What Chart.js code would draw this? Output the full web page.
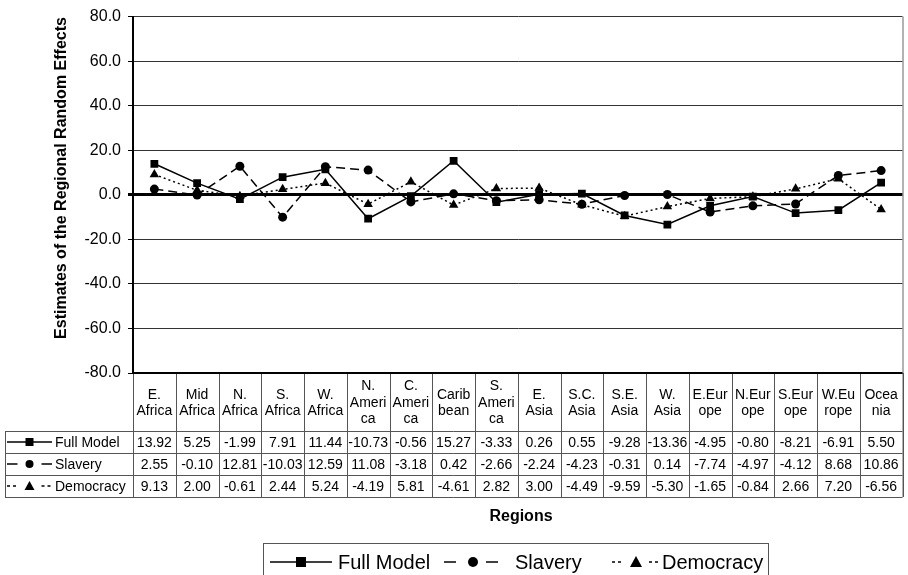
<!DOCTYPE html>
<html>
<head>
<meta charset="utf-8">
<script src="https://cdn.jsdelivr.net/npm/chart.js@4"></script>
<style>
  body { margin: 0; background: #fff; }
  #wrap { width: 908px; height: 575px; }
</style>
</head>
<body>
<div id="wrap"><canvas id="myChart" width="908" height="575"></canvas></div>
<script>
// regions (table header, split the way the original table wraps them)
const regions = [
    ["E.", "Africa"], ["Mid", "Africa"], ["N.", "Africa"], ["S.", "Africa"], ["W.", "Africa"],
    ["N.", "Ameri", "ca"], ["C.", "Ameri", "ca"], ["Carib", "bean"], ["S.", "Ameri", "ca"],
    ["E.", "Asia"], ["S.C.", "Asia"], ["S.E.", "Asia"], ["W.", "Asia"],
    ["E.Eur", "ope"], ["N.Eur", "ope"], ["S.Eur", "ope"], ["W.Eu", "rope"], ["Ocea", "nia"]
];
const fullModel = [13.92, 5.25, -1.99, 7.91, 11.44, -10.73, -0.56, 15.27, -3.33, 0.26, 0.55, -9.28, -13.36, -4.95, -0.80, -8.21, -6.91, 5.50];
const slavery = [2.55, -0.10, 12.81, -10.03, 12.59, 11.08, -3.18, 0.42, -2.66, -2.24, -4.23, -0.31, 0.14, -7.74, -4.97, -4.12, 8.68, 10.86];
const democracy = [9.13, 2.00, -0.61, 2.44, 5.24, -4.19, 5.81, -4.61, 2.82, 3.00, -4.49, -9.59, -5.30, -1.65, -0.84, 2.66, 7.20, -6.56];
const seriesNames = ["Full Model", "Slavery", "Democracy"];
const yTicks = [-80, -60, -40, -20, 0, 20, 40, 60, 80];

const FONT = "'Liberation Sans', Arial, sans-serif";
const seriesStyle = [
    { dash: [], point: "rect", r: 5.5 },
    { dash: [9, 5], point: "circle", r: 4.5 },
    { dash: [2, 3], point: "triangle", r: 5.5 }
];
const allData = [fullModel, slavery, democracy];

// small marker drawer used for the table keys and the legend
function marker(ctx, type, x, y, s) {
    ctx.save();
    ctx.fillStyle = "#000";
    ctx.setLineDash([]);
    ctx.beginPath();
    if (type === "rect") {
        ctx.rect(x - s / 2, y - s / 2, s, s);
    } else if (type === "circle") {
        ctx.arc(x, y, s / 2, 0, Math.PI * 2);
    } else {
        ctx.moveTo(x, y - s / 2 - 1);
        ctx.lineTo(x + s / 2 + 1, y + s / 2);
        ctx.lineTo(x - s / 2 - 1, y + s / 2);
        ctx.closePath();
    }
    ctx.fill();
    ctx.restore();
}

function keySample(ctx, i, x1, x2, y, s) {
    const mid = (x1 + x2) / 2;
    ctx.save();
    ctx.strokeStyle = "#000";
    ctx.lineWidth = 1.5;
    if (i === 0) {
        ctx.beginPath(); ctx.moveTo(x1, y); ctx.lineTo(x2, y); ctx.stroke();
    } else {
        ctx.setLineDash(i === 1 ? [12, 100] : [3, 3]);
        const gap = s / 2 + 8;
        ctx.beginPath(); ctx.moveTo(x1, y); ctx.lineTo(mid - gap, y); ctx.stroke();
        ctx.beginPath(); ctx.moveTo(mid + gap, y); ctx.lineTo(x2, y); ctx.stroke();
    }
    ctx.restore();
    marker(ctx, seriesStyle[i].point, mid, y, s);
}

const tablePlugin = {
    id: "dataTable",
    afterDraw(chart) {
        const ctx = chart.ctx;
        const x = chart.scales.x;
        const area = chart.chartArea;
        const n = regions.length;
        const colW = (area.right - area.left) / n;
        const top = area.bottom;
        const headBottom = 431;
        const rowH = 22;
        const tableBottom = headBottom + rowH * 3;

        ctx.save();
        // plot frame right side
        ctx.strokeStyle = "#666";
        ctx.lineWidth = 1;
        ctx.beginPath();
        ctx.moveTo(area.right + 0.5, area.top);
        ctx.lineTo(area.right + 0.5, tableBottom);
        ctx.stroke();

        // table grid
        ctx.strokeStyle = "#555";
        for (let k = 0; k <= n; k++) {
            const xx = Math.round(area.left + k * colW) + 0.5;
            ctx.beginPath();
            ctx.moveTo(xx, top);
            ctx.lineTo(xx, tableBottom);
            ctx.stroke();
        }
        for (let r = 0; r <= 3; r++) {
            const yy = headBottom + r * rowH + 0.5;
            ctx.beginPath();
            ctx.moveTo(5, yy);
            ctx.lineTo(area.right, yy);
            ctx.stroke();
        }
        ctx.beginPath();
        ctx.moveTo(5.5, headBottom);
        ctx.lineTo(5.5, tableBottom);
        ctx.stroke();

        // bottom axis line
        ctx.strokeStyle = "#000";
        ctx.lineWidth = 2;
        ctx.beginPath();
        ctx.moveTo(area.left, top);
        ctx.lineTo(area.right, top);
        ctx.stroke();

        // header text
        ctx.fillStyle = "#000";
        ctx.font = "14px " + FONT;
        ctx.textAlign = "center";
        ctx.textBaseline = "middle";
        const headMid = (top + headBottom) / 2 + 1;
        regions.forEach((lines, i) => {
            const cx = x.getPixelForValue(i);
            const lh = 16.5;
            lines.forEach((t, j) => {
                ctx.fillText(t, cx, headMid + (j - (lines.length - 1) / 2) * lh);
            });
        });

        // value rows
        allData.forEach((vals, r) => {
            const cy = headBottom + r * rowH + rowH / 2 + 1;
            vals.forEach((v, i) => {
                ctx.fillText(v.toFixed(2), x.getPixelForValue(i), cy);
            });
            keySample(ctx, r, 7, 52, cy - 1, 8);
            ctx.textAlign = "left";
            ctx.fillText(seriesNames[r], 55, cy);
            ctx.textAlign = "center";
        });

        // y axis title
        ctx.save();
        ctx.translate(62, 178);
        ctx.rotate(-Math.PI / 2);
        ctx.font = "bold 16px " + FONT;
        ctx.fillText("Estimates of the Regional Random Effects", 0, 0);
        ctx.restore();

        // x axis title
        ctx.font = "bold 16px " + FONT;
        ctx.fillText("Regions", 521, 517);

        // legend box
        ctx.strokeStyle = "#555";
        ctx.lineWidth = 1;
        ctx.strokeRect(263.5, 543.5, 505, 40);
        ctx.font = "20px " + FONT;
        ctx.textAlign = "left";
        const ly = 562;
        const legendKeys = [[270, 332, 338], [444, 502, 515], [612, 660, 662]];
        legendKeys.forEach((k, i) => {
            keySample(ctx, i, k[0], k[1], ly, 10);
            ctx.fillText(seriesNames[i], k[2], ly + 1);
        });
        ctx.restore();
    }
};

const ctx = document.getElementById("myChart").getContext("2d");
const myChart = new Chart(ctx, {
    type: "line",
    data: {
        labels: regions.map(r => r.join("")),
        datasets: allData.map((vals, i) => ({
            label: seriesNames[i],
            data: vals,
            borderColor: "#000",
            backgroundColor: "#000",
            borderWidth: 1.5,
            borderDash: seriesStyle[i].dash,
            pointStyle: seriesStyle[i].point,
            pointRadius: seriesStyle[i].r,
            pointBorderWidth: 0,
            tension: 0,
            fill: false
        }))
    },
    options: {
        responsive: false,
        animation: false,
        layout: { padding: { top: 14, right: 2, bottom: 202, left: 0 } },
        plugins: {
            legend: { display: false },
            tooltip: { enabled: false }
        },
        scales: {
            x: {
                display: false,
                offset: true
            },
            y: {
                min: -80,
                max: 80,
                afterFit: s => { s.width = 133; },
                afterBuildTicks: s => { s.ticks = yTicks.map(v => ({ value: v })); },
                border: { display: true, color: "#000", width: 2 },
                grid: {
                    color: c => (c.tick && c.tick.value === 0) ? "#000" : "#333",
                    lineWidth: c => (c.tick && c.tick.value === 0) ? 3 : 1,
                    tickLength: 5,
                    tickColor: "#000"
                },
                ticks: {
                    color: "#000",
                    padding: 7,
                    font: { family: FONT, size: 16 },
                    callback: v => v.toFixed(1)
                }
            }
        }
    },
    plugins: [tablePlugin]
});
</script>
</body>
</html>
